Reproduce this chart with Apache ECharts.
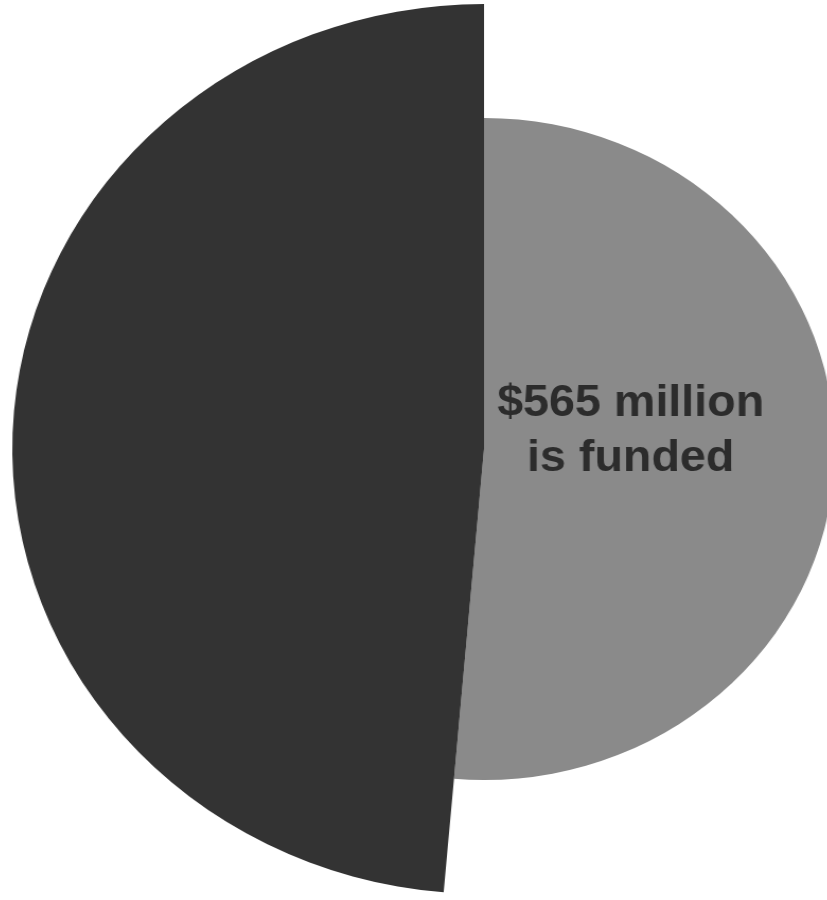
<!DOCTYPE html>
<html>
<head>
<meta charset="utf-8">
<script src="https://cdn.jsdelivr.net/npm/echarts@6/dist/echarts.min.js"></script>
<style>
  html, body { margin: 0; padding: 0; background: #ffffff; overflow: hidden; }
  /* the printed disc is slightly wider than it is tall */
  #chart { width: 827px; height: 900px; transform: scaleX(1.06); transform-origin: 484px 449px; }
</style>
</head>
<body>
<div id="chart"></div>
<script>
// Budget split, in millions of dollars
const categories = ['Funded', 'Unfunded'];
const amounts = [565, 535];

const fundedColor = '#8a8a8a';
const unfundedColor = '#333333';
const hidden = 'rgba(0,0,0,0)';

const center = [484, 449];

function sliceData(visibleIndex, color, withLabel) {
  return categories.map((name, i) => {
    const item = { name, value: amounts[i] };
    if (i === visibleIndex) {
      item.itemStyle = { color };
      item.label = withLabel
        ? {
            show: true,
            position: 'inside',
            formatter: p => '$' + p.value + ' million\nis funded',
            fontFamily: '"Liberation Sans", Arial, Helvetica, sans-serif',
            fontWeight: 'bold',
            fontSize: 44,
            lineHeight: 55,
            color: '#2c2c2c'
          }
        : { show: false };
    } else {
      item.itemStyle = { color: hidden };
      item.label = { show: false };
    }
    return item;
  });
}

const chart = echarts.init(document.getElementById('chart'), null, { renderer: 'canvas' });
chart.setOption({
  backgroundColor: '#ffffff',
  animation: false,
  series: [
    {
      // funded share, drawn on the smaller disc
      type: 'pie',
      z: 1,
      center,
      radius: [0, 331],
      startAngle: 90,
      clockwise: true,
      silent: true,
      avoidLabelOverlap: false,
      labelLine: { show: false },
      labelLayout: { dx: -30, dy: -25 },
      emphasis: { disabled: true },
      data: sliceData(0, fundedColor, true)
    },
    {
      // unfunded share, drawn on the larger disc
      type: 'pie',
      z: 2,
      center,
      radius: [0, 445],
      startAngle: 90,
      clockwise: true,
      silent: true,
      avoidLabelOverlap: false,
      labelLine: { show: false },
      emphasis: { disabled: true },
      data: sliceData(1, unfundedColor, false)
    }
  ]
});
</script>
</body>
</html>
